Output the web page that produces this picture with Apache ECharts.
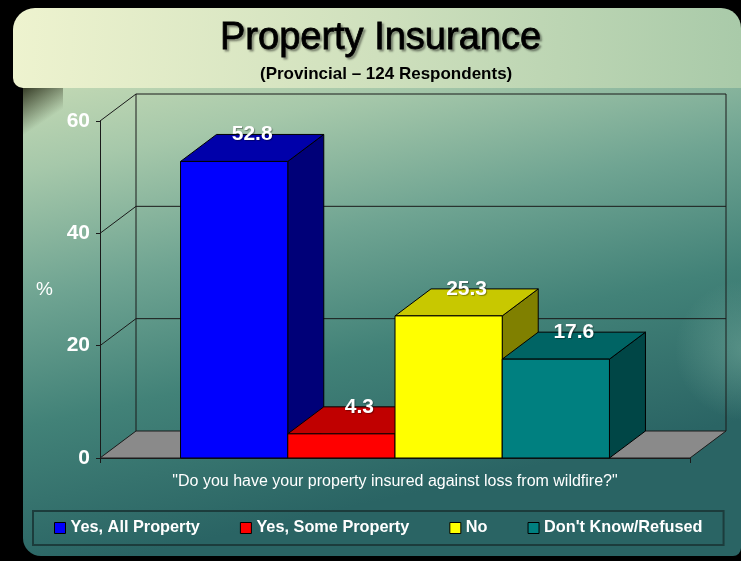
<!DOCTYPE html>
<html>
<head>
<meta charset="utf-8">
<script src="https://cdn.jsdelivr.net/npm/echarts@6/dist/echarts.min.js"></script>
<style>html,body{margin:0;padding:0;background:#000;}#c{width:741px;height:561px;}</style>
</head>
<body>
<div id="c"></div>
<script>
// ---- data ----
const categories = ['"Do you have your property insured against loss from wildfire?"'];
const seriesNames = ['Yes, All Property', 'Yes, Some Property', 'No', "Don't Know/Refused"];
const seriesValues = [52.8, 4.3, 25.3, 17.6];
const yTicks = [0, 20, 40, 60];
const titleText = 'Property Insurance';
const subtitleText = '(Provincial \u2013 124 Respondents)';
const yName = '%';

// ---- styles ----
const FONT = "'Liberation Sans', Arial, Helvetica, sans-serif";
const frontColors = ['#0000ff', '#ff0000', '#ffff00', '#008080'];
const topColors = ['#0000aa', '#c00000', '#c8c800', '#006464'];
const sideColors = ['#000078', '#800000', '#808000', '#004646'];
const DX = 36, DY = -27;
const GROUP_RATIO = 0.727;

const chart = echarts.init(document.getElementById('c'), null, {renderer: 'canvas'});

function barRenderer(i) {
  return function (params, api) {
    const c = api.value(0), v = api.value(1);
    const base = api.coord([c, 0]);
    const top = api.coord([c, v]);
    const band = api.size([1, 0])[0];
    const gw = band * GROUP_RATIO;
    const bw = gw / seriesNames.length;
    const x0 = base[0] - gw / 2 + i * bw;
    const x1 = x0 + bw;
    const yT = top[1], yB = base[1];
    const stroke = '#000';
    return {
      type: 'group',
      children: [
        {type: 'polygon', shape: {points: [[x1, yT], [x1 + DX, yT + DY], [x1 + DX, yB + DY], [x1, yB]]},
         style: {fill: sideColors[i], stroke: stroke, lineWidth: 1}},
        {type: 'polygon', shape: {points: [[x0, yT], [x1, yT], [x1 + DX, yT + DY], [x0 + DX, yT + DY]]},
         style: {fill: topColors[i], stroke: stroke, lineWidth: 1}},
        {type: 'rect', shape: {x: x0, y: yT, width: bw, height: yB - yT},
         style: {fill: frontColors[i], stroke: stroke, lineWidth: 1}},
        {type: 'text', x: (x0 + x1) / 2 + DX / 2, y: yT + DY, z2: 50,
         style: {text: v.toFixed(1), fill: '#fff', fontSize: 21, fontWeight: 'bold', fontFamily: FONT,
                 align: 'center', verticalAlign: 'middle',
                 textShadowColor: 'rgba(0,0,0,0.35)', textShadowOffsetX: 1, textShadowOffsetY: 1, textShadowBlur: 1}}
      ]
    };
  };
}

function wallRenderer(params, api) {
  const base = api.coord([0, 0]);
  const band = api.size([1, 0])[0];
  const L = base[0] - band / 2, R = base[0] + band / 2;
  const y0 = base[1];
  const yTop = api.coord([0, yTicks[yTicks.length - 1]])[1];
  const lineStyle = {stroke: '#1a1a1a', lineWidth: 1, fill: null};
  const children = [
    {type: 'polygon', shape: {points: [[L, y0], [R, y0], [R + DX, y0 + DY], [L + DX, y0 + DY]]},
     style: {fill: '#8a8a8a', stroke: '#1a1a1a', lineWidth: 1}},
    {type: 'line', shape: {x1: L + DX, y1: y0 + DY, x2: L + DX, y2: yTop + DY}, style: lineStyle},
    {type: 'line', shape: {x1: R + DX, y1: y0 + DY, x2: R + DX, y2: yTop + DY}, style: lineStyle}
  ];
  yTicks.forEach(function (t) {
    if (t === 0) return;
    const y = api.coord([0, t])[1];
    children.push({type: 'polyline', shape: {points: [[L, y], [L + DX, y + DY], [R + DX, y + DY]]}, style: lineStyle});
  });
  return {type: 'group', children: children};
}

const series = [{
  type: 'custom', name: 'walls', z: 1, silent: true,
  renderItem: wallRenderer,
  data: [[0, 0]]
}];
seriesNames.forEach(function (n, i) {
  series.push({
    type: 'custom', name: n, z: 2, silent: true,
    renderItem: barRenderer(i),
    itemStyle: {color: frontColors[i]},
    encode: {x: 0, y: 1},
    data: [[0, seriesValues[i]]]
  });
});

const option = {
  backgroundColor: '#000',
  animation: false,
  graphic: [
    {type: 'rect', z: -10, silent: true,
     shape: {x: 23, y: 70, width: 718, height: 486, r: [0, 0, 8, 18]},
     style: {fill: new echarts.graphic.LinearGradient(0, 0, 0.15, 1, [
       {offset: 0, color: '#c8dcb6'},
       {offset: 0.2, color: '#a6c8aa'},
       {offset: 0.45, color: '#6fa492'},
       {offset: 0.7, color: '#428278'},
       {offset: 1, color: '#2a6464'}])}},
    {type: 'circle', z: -9, silent: true,
     shape: {cx: 745, cy: 350, r: 70},
     style: {fill: new echarts.graphic.RadialGradient(0.5, 0.5, 0.5, [
       {offset: 0, color: 'rgba(150,200,180,0.35)'},
       {offset: 1, color: 'rgba(150,200,180,0)'}])}},
    {type: 'rect', z: -9, silent: true,
     shape: {x: 23, y: 88, width: 40, height: 100},
     style: {fill: new echarts.graphic.LinearGradient(0, 0, 1, 0.6, [
       {offset: 0, color: 'rgba(40,45,25,0.9)'},
       {offset: 0.55, color: 'rgba(40,45,25,0)'}])}},
    {type: 'rect', z: -8, silent: true,
     shape: {x: 13, y: 8, width: 728, height: 80, r: [22, 20, 0, 10]},
     style: {fill: new echarts.graphic.LinearGradient(0, 0, 1, 0.4, [
       {offset: 0, color: '#eef3cf'},
       {offset: 0.5, color: '#cfe0bd'},
       {offset: 1, color: '#a9caa9'}])}}
  ],
  title: [
    {text: titleText, left: 215, top: 15,
     textStyle: {color: '#000', fontSize: 38, fontWeight: 'normal', fontFamily: FONT,
                 textBorderColor: '#000', textBorderWidth: 0.8,
                 textShadowColor: 'rgba(0,0,0,0.35)', textShadowOffsetX: 2, textShadowOffsetY: 2, textShadowBlur: 2}},
    {text: subtitleText, left: 255, top: 61,
     textStyle: {color: '#000', fontSize: 17, fontWeight: 'bold', fontFamily: FONT}}
  ],
  legend: {
    data: seriesNames,
    left: 33, top: 511,
    padding: [9, 21, 9, 21],
    itemGap: 40,
    itemWidth: 11, itemHeight: 11,
    icon: 'rect',
    borderColor: '#1c3c3c', borderWidth: 2,
    itemStyle: {borderColor: '#000', borderWidth: 1},
    textStyle: {color: '#fff', fontSize: 16.3, fontWeight: 'bold', fontFamily: FONT}
  },
  grid: {left: 100, right: 51, top: 121, bottom: 103, containLabel: false},
  xAxis: {
    type: 'category', data: categories,
    axisLine: {show: true, lineStyle: {color: '#1a1a1a', width: 1}},
    axisTick: {show: true, length: 5, lineStyle: {color: '#1a1a1a'}},
    axisLabel: {color: '#fff', fontSize: 16, fontFamily: FONT, margin: 16}
  },
  yAxis: {
    type: 'value', min: 0, max: 60, interval: 20,
    name: yName, nameLocation: 'middle', nameGap: 47, nameRotate: 0,
    nameTextStyle: {color: '#fff', fontSize: 19, fontFamily: FONT},
    axisLine: {show: true, lineStyle: {color: '#1a1a1a', width: 1}},
    axisTick: {show: true, length: 4, lineStyle: {color: '#1a1a1a'}},
    axisLabel: {color: '#fff', fontSize: 21, fontWeight: 'bold', fontFamily: FONT, margin: 10},
    splitLine: {show: false}
  },
  series: series
};
chart.setOption(option);
</script>
</body>
</html>
